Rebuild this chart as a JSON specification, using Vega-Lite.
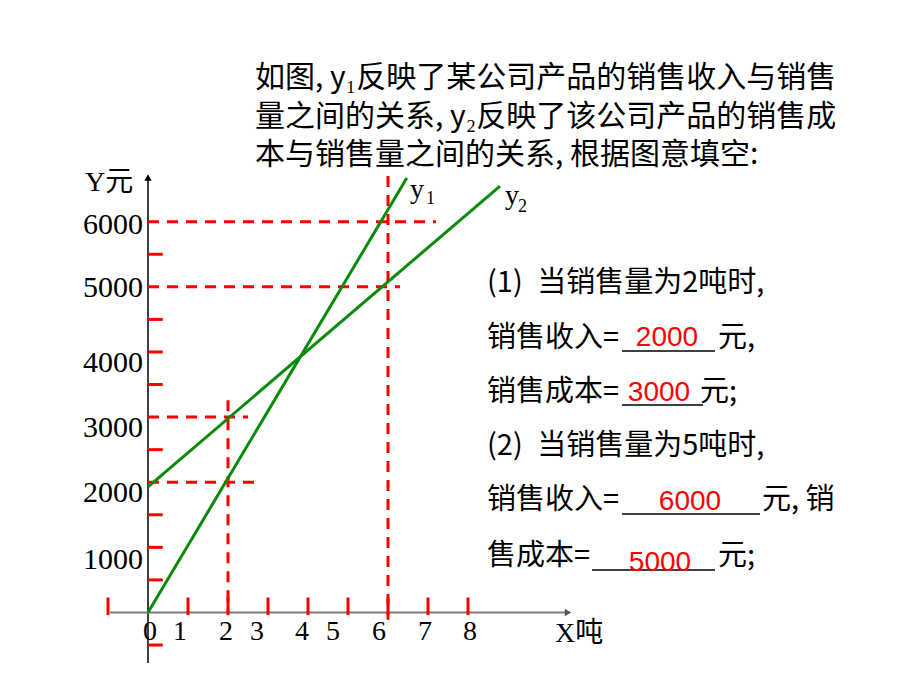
{
  "$schema": "https://vega.github.io/schema/vega-lite/v6.json",
  "width": 920,
  "height": 690,
  "autosize": {"type": "fit", "contains": "padding"},
  "padding": 0,
  "background": "white",
  "config": {"view": {"stroke": null}},
  "datasets": {
    "curves": [
      {"series": "y1", "x": 0, "y": 0},
      {"series": "y1", "x": 6.47, "y": 6670},
      {"series": "y2", "x": 0, "y": 1927},
      {"series": "y2", "x": 8.8, "y": 6548}
    ],
    "guides": [
      {"x": 0, "x2": 7.2, "y": 6000, "y2": 6000},
      {"x": 0, "x2": 6.3, "y": 5000, "y2": 5000},
      {"x": 0, "x2": 2.5, "y": 3000, "y2": 3000},
      {"x": 0, "x2": 2.75, "y": 2000, "y2": 2000},
      {"x": 2, "x2": 2, "y": 3260, "y2": 0},
      {"x": 6, "x2": 6, "y": 6700, "y2": -110}
    ],
    "yticks": [
      {"x": 0, "x2": 0.37, "y": -500},
      {"x": 0, "x2": 0.37, "y": 500},
      {"x": 0, "x2": 0.37, "y": 1000},
      {"x": 0, "x2": 0.37, "y": 1500},
      {"x": 0, "x2": 0.37, "y": 2500},
      {"x": 0, "x2": 0.37, "y": 3500},
      {"x": 0, "x2": 0.37, "y": 4000},
      {"x": 0, "x2": 0.37, "y": 4500},
      {"x": 0, "x2": 0.37, "y": 5500}
    ],
    "xticks": [
      {"x": -1, "y": -40, "y2": 230},
      {"x": 1, "y": -40, "y2": 230},
      {"x": 2, "y": -40, "y2": 230},
      {"x": 3, "y": -40, "y2": 230},
      {"x": 4, "y": -40, "y2": 230},
      {"x": 5, "y": -40, "y2": 230},
      {"x": 6, "y": -40, "y2": 230},
      {"x": 7, "y": -40, "y2": 230},
      {"x": 8, "y": -40, "y2": 230}
    ],
    "yaxis": [{"x": 0, "x2": 0, "y": -775, "y2": 6700}],
    "xaxis": [{"x": -0.95, "x2": 10.5, "y": 0, "y2": 0}],
    "yarrow": [{"x": 0, "y": 6680}],
    "xarrow": [{"x": 10.5, "y": 0}],
    "ylabels": [
      {"label": "6000", "x": -0.125, "y": 5950},
      {"label": "5000", "x": -0.125, "y": 4982},
      {"label": "4000", "x": -0.125, "y": 3831},
      {"label": "3000", "x": -0.125, "y": 2833},
      {"label": "2000", "x": -0.125, "y": 1835},
      {"label": "1000", "x": -0.125, "y": 806}
    ],
    "xlabels": [
      {"label": "0", "x": 0.05, "y": -299},
      {"label": "1", "x": 0.8, "y": -299},
      {"label": "2", "x": 1.95, "y": -299},
      {"label": "3", "x": 2.725, "y": -299},
      {"label": "4", "x": 3.85, "y": -299},
      {"label": "5", "x": 4.625, "y": -299},
      {"label": "6", "x": 5.775, "y": -299},
      {"label": "7", "x": 6.925, "y": -299},
      {"label": "8", "x": 8.05, "y": -299}
    ],
    "names": [
      {"label": "Y元", "x": -1.575, "y": 6594},
      {"label": "X吨", "x": 10.175, "y": -330},
      {"label": "y", "x": 6.55, "y": 6490},
      {"label": "y", "x": 8.925, "y": 6400}
    ],
    "subs": [
      {"label": "1", "x": 6.95, "y": 6349},
      {"label": "2", "x": 9.25, "y": 6226}
    ],
    "title": [
      {"label": "如图, y₁反映了某公司产品的销售收入与销售", "x": 2.675, "y": 8207},
      {"label": "量之间的关系, y₂反映了该公司产品的销售成", "x": 2.675, "y": 7608},
      {"label": "本与销售量之间的关系, 根据图意填空:", "x": 2.675, "y": 7025}
    ],
    "notes": [
      {"label": "(1)\u2002当销售量为2吨时,", "x": 8.475, "y": 5059},
      {"label": "销售收入=", "x": 8.475, "y": 4215},
      {"label": "元,", "x": 14.25, "y": 4215},
      {"label": "销售成本=", "x": 8.475, "y": 3386},
      {"label": "元;", "x": 13.8, "y": 3386},
      {"label": "(2)\u2002当销售量为5吨时,", "x": 8.475, "y": 2556},
      {"label": "销售收入=", "x": 8.475, "y": 1727},
      {"label": "元, 销", "x": 15.35, "y": 1727},
      {"label": "售成本=", "x": 8.475, "y": 867},
      {"label": "元;", "x": 14.25, "y": 867}
    ],
    "blanks": [
      {"x": 11.85, "x2": 14.175, "y": 4015},
      {"x": 11.85, "x2": 13.875, "y": 3186},
      {"x": 11.85, "x2": 15.3, "y": 1512},
      {"x": 11.1, "x2": 14.175, "y": 653}
    ],
    "answers": [
      {"label": "2000", "x": 12.975, "y": 4215},
      {"label": "3000", "x": 12.775, "y": 3370},
      {"label": "6000", "x": 13.55, "y": 1697},
      {"label": "5000", "x": 12.8, "y": 760}
    ]
  },
  "encoding": {
    "x": {
      "field": "x",
      "type": "quantitative",
      "scale": {"domain": [-3.7, 19.3], "nice": false, "zero": false},
      "axis": null
    },
    "y": {
      "field": "y",
      "type": "quantitative",
      "scale": {"domain": [-1190.5, 9404.3], "nice": false, "zero": false},
      "axis": null
    }
  },
  "layer": [
    {
      "data": {"name": "yaxis"},
      "mark": {"type": "rule", "color": "black", "strokeWidth": 1.5},
      "encoding": {"x2": {"field": "x2"}, "y2": {"field": "y2"}}
    },
    {
      "data": {"name": "xaxis"},
      "mark": {"type": "rule", "color": "#7a7a7a", "strokeWidth": 2},
      "encoding": {"x2": {"field": "x2"}, "y2": {"field": "y2"}}
    },
    {
      "data": {"name": "yarrow"},
      "mark": {"type": "point", "shape": "triangle-up", "filled": true, "color": "black", "size": 55, "opacity": 1}
    },
    {
      "data": {"name": "xarrow"},
      "mark": {"type": "point", "shape": "triangle-right", "filled": true, "color": "#555555", "size": 55, "opacity": 1}
    },
    {
      "data": {"name": "yticks"},
      "mark": {"type": "rule", "color": "#ff0000", "strokeWidth": 3},
      "encoding": {"x2": {"field": "x2"}}
    },
    {
      "data": {"name": "xticks"},
      "mark": {"type": "rule", "color": "#ff0000", "strokeWidth": 3},
      "encoding": {"y2": {"field": "y2"}}
    },
    {
      "data": {"name": "guides"},
      "mark": {"type": "rule", "color": "#ff0000", "strokeWidth": 3, "strokeDash": [11, 8]},
      "encoding": {"x2": {"field": "x2"}, "y2": {"field": "y2"}}
    },
    {
      "data": {"name": "curves"},
      "mark": {"type": "line", "color": "#0a8a0a", "strokeWidth": 3},
      "encoding": {"detail": {"field": "series"}}
    },
    {
      "data": {"name": "ylabels"},
      "mark": {"type": "text", "align": "right", "baseline": "middle", "font": "Liberation Serif", "fontSize": 30, "color": "black"},
      "encoding": {"text": {"field": "label"}}
    },
    {
      "data": {"name": "xlabels"},
      "mark": {"type": "text", "align": "center", "baseline": "middle", "font": "Liberation Serif", "fontSize": 28, "color": "black"},
      "encoding": {"text": {"field": "label"}}
    },
    {
      "data": {"name": "names"},
      "mark": {"type": "text", "align": "left", "baseline": "middle", "font": "Liberation Serif, Noto Sans CJK SC", "fontSize": 28, "color": "black"},
      "encoding": {"text": {"field": "label"}}
    },
    {
      "data": {"name": "subs"},
      "mark": {"type": "text", "align": "left", "baseline": "middle", "font": "Liberation Serif", "fontSize": 18, "color": "black"},
      "encoding": {"text": {"field": "label"}}
    },
    {
      "data": {"name": "title"},
      "mark": {"type": "text", "align": "left", "baseline": "middle", "font": "Noto Sans CJK SC", "fontSize": 30, "color": "black"},
      "encoding": {"text": {"field": "label"}}
    },
    {
      "data": {"name": "notes"},
      "mark": {"type": "text", "align": "left", "baseline": "middle", "font": "Noto Sans CJK SC", "fontSize": 29, "color": "black"},
      "encoding": {"text": {"field": "label"}}
    },
    {
      "data": {"name": "blanks"},
      "mark": {"type": "rule", "color": "black", "strokeWidth": 1.5},
      "encoding": {"x2": {"field": "x2"}}
    },
    {
      "data": {"name": "answers"},
      "mark": {"type": "text", "align": "center", "baseline": "middle", "font": "Liberation Sans", "fontSize": 28, "color": "#ff0000"},
      "encoding": {"text": {"field": "label"}}
    }
  ]
}
